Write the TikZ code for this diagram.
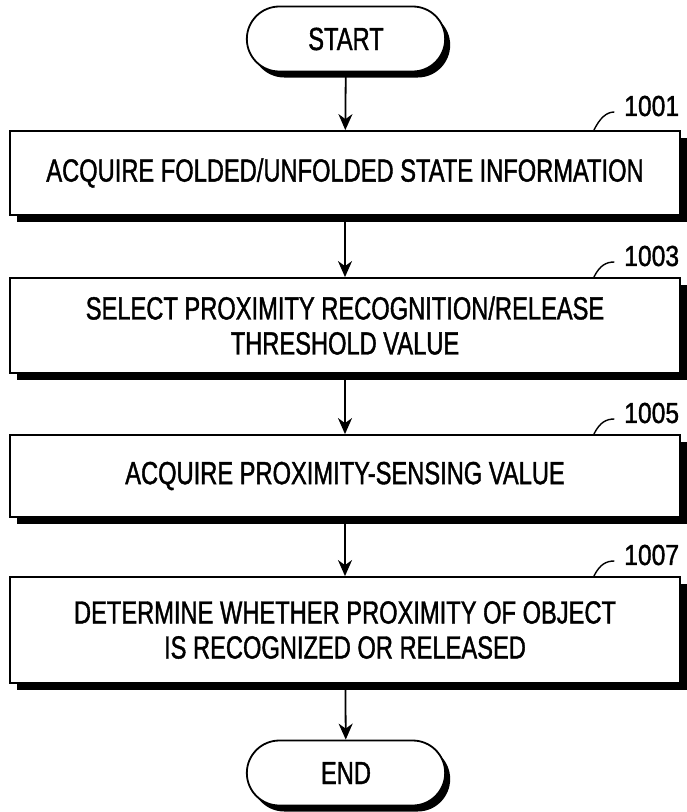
\documentclass[tikz,border=0pt]{standalone}
\usepackage{fontspec}
\setmainfont{Liberation Sans}[FakeStretch=0.74, FakeBold=1.2]
\newfontfamily\refnumfont{Liberation Sans}[FakeStretch=0.85, FakeBold=1.2]
\usetikzlibrary{arrows.meta,shapes.misc,shadows}

\tikzset{
  stepbox/.style={draw, line width=1.8pt, fill=white, minimum width=670pt,
    align=center, font=\fontsize{32}{35}\selectfont,
    drop shadow={shadow xshift=7pt, shadow yshift=-7pt, opacity=1, fill=black}},
  terminal/.style={rounded rectangle, draw, line width=1.8pt, fill=white,
    minimum width=205pt, minimum height=65pt, font=\fontsize{32}{35}\selectfont,
    drop shadow={shadow xshift=5pt, shadow yshift=-6pt, opacity=1, fill=black}},
  reflabel/.style={font=\refnumfont\fontsize{29}{31}\selectfont, inner sep=0pt},
  leader/.style={line width=1.4pt}
}

\begin{document}
\begin{tikzpicture}[x=1pt, y=1pt, >={Stealth[length=16pt, width=14pt, inset=5pt]}, line width=1.8pt]
\useasboundingbox (0,0) rectangle (687,-812);

% START
\node[terminal] (start) at (346,-39) {START};

% STEP 1001
\node[stepbox, minimum height=84pt] (s1001) at (345,-173) {ACQUIRE FOLDED/UNFOLDED STATE INFORMATION};
\node[reflabel, anchor=east] (l1001) at (680,-106) {1001};
\draw[leader] ([xshift=-87pt]s1001.north east) .. controls +(6,12) and +(-8,0) .. ([xshift=-9pt,yshift=-6pt]l1001.west);

% STEP 1003
\node[stepbox, minimum height=95pt] (s1003) at (345,-325.5) {SELECT PROXIMITY RECOGNITION/RELEASE\\THRESHOLD VALUE};
\node[reflabel, anchor=east] (l1003) at (680,-256) {1003};
\draw[leader] ([xshift=-87pt]s1003.north east) .. controls +(6,12) and +(-8,0) .. ([xshift=-9pt,yshift=-6pt]l1003.west);

% STEP 1005
\node[stepbox, minimum height=82pt] (s1005) at (345,-476) {ACQUIRE PROXIMITY-SENSING VALUE};
\node[reflabel, anchor=east] (l1005) at (680,-413) {1005};
\draw[leader] ([xshift=-87pt]s1005.north east) .. controls +(6,12) and +(-8,0) .. ([xshift=-9pt,yshift=-6pt]l1005.west);

% STEP 1007
\node[stepbox, minimum height=106pt] (s1007) at (345,-630) {DETERMINE WHETHER PROXIMITY OF OBJECT\\IS RECOGNIZED OR RELEASED};
\node[reflabel, anchor=east] (l1007) at (680,-555) {1007};
\draw[leader] ([xshift=-87pt]s1007.north east) .. controls +(6,12) and +(-8,0) .. ([xshift=-9pt,yshift=-6pt]l1007.west);

% END
\node[terminal] (end) at (346,-773) {END};

% Arrows
\draw[->] (start) -- (s1001);
\draw[->] (s1001) -- (s1003);
\draw[->] (s1003) -- (s1005);
\draw[->] (s1005) -- (s1007);
\draw[->] (s1007) -- (end);

\end{tikzpicture}
\end{document}
